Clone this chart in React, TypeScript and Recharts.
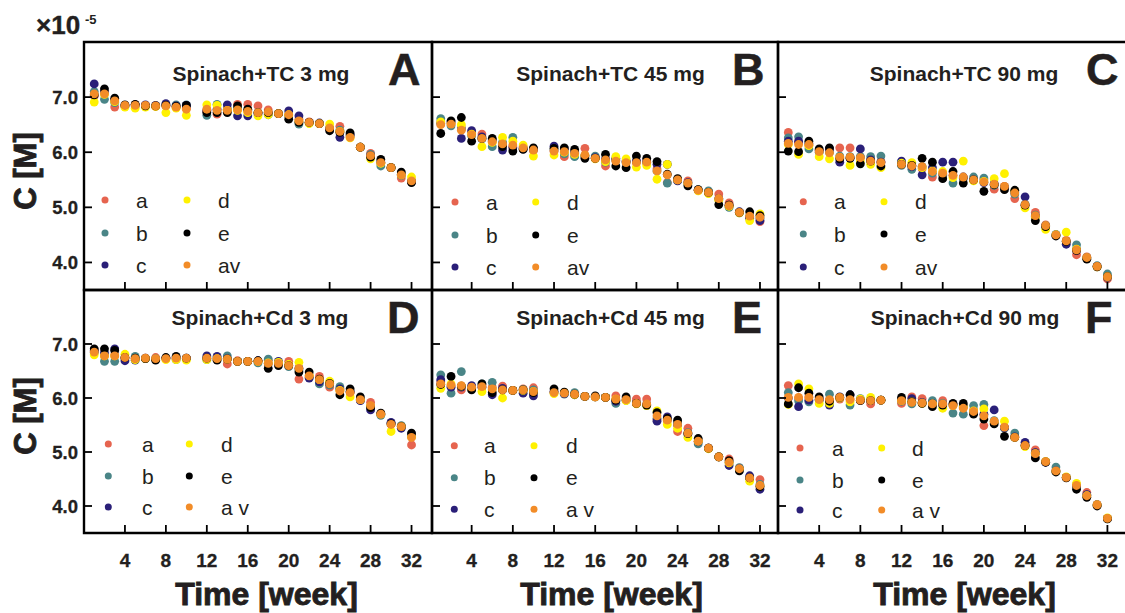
import React from 'react';
import { ScatterChart, Scatter, XAxis, YAxis, ReferenceArea } from 'recharts';

const FONT = '"Liberation Sans", Arial, Helvetica, sans-serif';
const TEXT = '#231f20';

// ---------- data ----------
const weeks = [1, 2, 3, 4, 5, 6, 7, 8, 9, 10, 12, 13, 14, 15, 16, 17, 18, 19, 20, 21, 22, 23, 24, 25, 26, 27, 28, 29, 30, 31, 32];
const xTicks = [4, 8, 12, 16, 20, 24, 28, 32];
const yTicks = [4, 5, 6, 7];
const yTickLabels = ['4.0', '5.0', '6.0', '7.0'];
const seriesKeys = ['a', 'b', 'c', 'd', 'e', 'av'];
const seriesColors = ['#E6644F', '#4A8587', '#2A1F78', '#FFF100', '#000000', '#F28C28'];
const legendLabelsTop = ['a', 'b', 'c', 'd', 'e', 'av'];
const legendLabelsBottom = ['a', 'b', 'c', 'd', 'e', 'a v'];
const titles = ['Spinach+TC 3 mg', 'Spinach+TC 45 mg', 'Spinach+TC 90 mg', 'Spinach+Cd 3 mg', 'Spinach+Cd 45 mg', 'Spinach+Cd 90 mg'];
const letters = ['A', 'B', 'C', 'D', 'E', 'F'];

// Panel A : Spinach+TC 3 mg
const A_a = [7.02, 7.08, 6.82, 6.84, 6.86, 6.85, 6.83, 6.85, 6.82, 6.80, 6.74, 6.69, 6.78, 6.87, 6.87, 6.84, 6.77, 6.70, 6.68, 6.60, 6.55, 6.52, 6.42, 6.47, 6.30, 6.09, 5.98, 5.80, 5.72, 5.53, 5.46];
const A_b = [7.10, 6.96, 6.90, 6.83, 6.84, 6.84, 6.84, 6.86, 6.86, 6.86, 6.67, 6.87, 6.78, 6.78, 6.76, 6.72, 6.68, 6.70, 6.66, 6.51, 6.53, 6.52, 6.44, 6.40, 6.30, 6.09, 5.96, 5.75, 5.72, 5.58, 5.47];
const A_c = [7.24, 7.10, 6.95, 6.85, 6.86, 6.86, 6.85, 6.88, 6.84, 6.85, 6.76, 6.78, 6.86, 6.66, 6.66, 6.70, 6.70, 6.70, 6.75, 6.66, 6.54, 6.53, 6.42, 6.27, 6.32, 6.09, 5.94, 5.82, 5.72, 5.60, 5.47];
const A_d = [6.91, 7.05, 6.92, 6.82, 6.80, 6.82, 6.83, 6.72, 6.80, 6.67, 6.86, 6.85, 6.76, 6.76, 6.72, 6.66, 6.68, 6.70, 6.68, 6.56, 6.52, 6.52, 6.51, 6.38, 6.26, 6.09, 5.88, 5.80, 5.72, 5.59, 5.55];
const A_e = [7.04, 7.15, 6.98, 6.86, 6.87, 6.84, 6.84, 6.85, 6.83, 6.85, 6.72, 6.72, 6.72, 6.84, 6.78, 6.72, 6.72, 6.70, 6.60, 6.54, 6.54, 6.52, 6.39, 6.36, 6.35, 6.09, 5.91, 5.87, 5.72, 5.64, 5.45];
const A_av = [7.06, 7.06, 6.93, 6.85, 6.85, 6.85, 6.84, 6.84, 6.82, 6.78, 6.78, 6.76, 6.76, 6.77, 6.74, 6.72, 6.73, 6.70, 6.68, 6.57, 6.54, 6.52, 6.44, 6.38, 6.27, 6.09, 5.94, 5.81, 5.72, 5.59, 5.48];

// Panel B : Spinach+TC 45 mg
const B_a = [6.55, 6.52, 6.45, 6.36, 6.33, 6.20, 6.15, 6.10, 6.10, 6.03, 6.02, 5.92, 5.95, 6.07, 5.90, 5.75, 5.86, 5.83, 5.82, 5.81, 5.70, 5.45, 5.50, 5.48, 5.31, 5.27, 5.24, 5.08, 4.91, 4.82, 4.74];
const B_b = [6.61, 6.48, 6.42, 6.30, 6.24, 6.10, 6.18, 6.27, 6.07, 6.05, 6.04, 5.97, 5.92, 5.94, 5.93, 5.82, 5.86, 5.82, 5.83, 5.81, 5.66, 5.44, 5.49, 5.44, 5.32, 5.30, 5.14, 5.00, 4.90, 4.84, 4.80];
const B_c = [6.52, 6.55, 6.25, 6.39, 6.28, 6.22, 6.04, 6.08, 6.06, 6.06, 6.11, 6.05, 6.00, 5.93, 5.90, 5.88, 5.89, 5.84, 5.85, 5.84, 5.78, 5.78, 5.48, 5.45, 5.31, 5.26, 5.16, 5.04, 4.92, 4.80, 4.76];
const B_d = [6.55, 6.52, 6.50, 6.33, 6.10, 6.18, 6.27, 6.20, 6.13, 5.93, 5.95, 6.00, 5.96, 5.94, 5.88, 5.83, 5.92, 5.88, 5.73, 5.76, 5.51, 5.78, 5.50, 5.43, 5.30, 5.25, 5.13, 5.02, 4.90, 4.76, 4.88];
const B_e = [6.34, 6.57, 6.63, 6.20, 6.25, 6.25, 6.10, 6.02, 6.05, 6.08, 6.07, 6.08, 6.05, 5.89, 5.89, 5.96, 5.75, 5.72, 5.93, 5.89, 5.83, 5.60, 5.52, 5.39, 5.32, 5.27, 5.05, 5.04, 4.91, 4.92, 4.85];
const B_av = [6.50, 6.51, 6.40, 6.32, 6.25, 6.19, 6.15, 6.13, 6.08, 6.04, 6.02, 6.01, 5.98, 5.95, 5.89, 5.86, 5.84, 5.81, 5.81, 5.82, 5.66, 5.59, 5.50, 5.44, 5.31, 5.27, 5.16, 5.03, 4.91, 4.84, 4.82];

// Panel C : Spinach+TC 90 mg
const C_a = [6.36, 6.18, 6.12, 6.04, 6.05, 6.08, 6.08, 5.91, 5.86, 5.83, 5.79, 5.76, 5.70, 5.55, 5.60, 5.58, 5.53, 5.50, 5.50, 5.33, 5.38, 5.16, 5.04, 4.91, 4.68, 4.50, 4.40, 4.14, 4.10, 3.93, 3.70];
const C_b = [6.26, 6.28, 6.06, 6.00, 6.00, 5.93, 5.92, 5.92, 5.92, 5.93, 5.76, 5.69, 5.74, 5.62, 5.58, 5.44, 5.52, 5.55, 5.53, 5.40, 5.37, 5.24, 5.06, 4.86, 4.67, 4.51, 4.38, 4.32, 4.09, 3.94, 3.79];
const C_c = [6.20, 6.20, 6.16, 6.03, 6.06, 5.82, 5.90, 6.06, 5.86, 5.82, 5.84, 5.74, 5.59, 5.72, 5.82, 5.82, 5.55, 5.50, 5.45, 5.43, 5.36, 5.28, 5.19, 4.84, 4.66, 4.49, 4.33, 4.22, 4.08, 3.93, 3.73];
const C_d = [6.14, 5.96, 6.12, 5.92, 5.88, 5.90, 5.76, 5.84, 5.78, 5.72, 5.80, 5.81, 5.72, 5.66, 5.65, 5.54, 5.84, 5.48, 5.47, 5.52, 5.61, 5.30, 4.99, 4.82, 4.60, 4.50, 4.55, 4.24, 4.08, 3.92, 3.74];
const C_e = [6.02, 6.01, 6.20, 6.06, 6.08, 5.88, 5.89, 5.79, 5.84, 5.75, 5.78, 5.76, 5.89, 5.82, 5.52, 5.65, 5.44, 5.50, 5.29, 5.41, 5.32, 5.31, 5.04, 4.76, 4.65, 4.48, 4.38, 4.22, 4.06, 3.92, 3.74];
const C_av = [6.16, 6.14, 6.14, 6.01, 5.99, 5.91, 5.91, 5.90, 5.84, 5.81, 5.78, 5.75, 5.74, 5.65, 5.62, 5.58, 5.55, 5.50, 5.46, 5.42, 5.38, 5.26, 5.05, 4.85, 4.67, 4.50, 4.39, 4.23, 4.09, 3.93, 3.74];

// Panel D : Spinach+Cd 3 mg
const D_a = [6.86, 6.80, 6.80, 6.74, 6.73, 6.74, 6.75, 6.73, 6.73, 6.73, 6.73, 6.73, 6.63, 6.69, 6.68, 6.68, 6.70, 6.66, 6.68, 6.35, 6.40, 6.40, 6.20, 6.15, 6.10, 5.96, 5.92, 5.71, 5.52, 5.48, 5.13];
const D_b = [6.84, 6.68, 6.68, 6.74, 6.77, 6.73, 6.73, 6.73, 6.71, 6.73, 6.71, 6.74, 6.78, 6.68, 6.68, 6.65, 6.72, 6.65, 6.58, 6.52, 6.38, 6.26, 6.24, 6.21, 6.12, 5.97, 5.84, 5.68, 5.53, 5.49, 5.30];
const D_c = [6.88, 6.84, 6.91, 6.69, 6.70, 6.74, 6.72, 6.74, 6.74, 6.74, 6.78, 6.77, 6.73, 6.68, 6.68, 6.69, 6.64, 6.68, 6.60, 6.55, 6.37, 6.30, 6.26, 6.17, 6.12, 5.95, 5.78, 5.70, 5.55, 5.44, 5.32];
const D_d = [6.80, 6.78, 6.78, 6.81, 6.71, 6.73, 6.72, 6.71, 6.71, 6.70, 6.71, 6.73, 6.72, 6.68, 6.68, 6.68, 6.65, 6.66, 6.62, 6.66, 6.42, 6.34, 6.31, 6.14, 6.02, 5.97, 5.85, 5.70, 5.38, 5.47, 5.28];
const D_e = [6.91, 6.91, 6.88, 6.75, 6.74, 6.73, 6.70, 6.75, 6.77, 6.74, 6.74, 6.70, 6.72, 6.68, 6.68, 6.69, 6.55, 6.60, 6.60, 6.48, 6.48, 6.35, 6.27, 6.06, 6.17, 6.02, 5.82, 5.72, 5.52, 5.47, 5.35];
const D_av = [6.85, 6.78, 6.78, 6.75, 6.73, 6.74, 6.73, 6.73, 6.74, 6.74, 6.74, 6.73, 6.72, 6.68, 6.68, 6.68, 6.64, 6.64, 6.60, 6.55, 6.41, 6.34, 6.26, 6.13, 6.10, 5.97, 5.86, 5.70, 5.51, 5.47, 5.27];

// Panel E : Spinach+Cd 45 mg
const E_a = [6.30, 6.22, 6.15, 6.18, 6.22, 6.20, 6.22, 6.14, 6.17, 6.19, 6.11, 6.09, 6.07, 6.03, 6.02, 6.01, 6.04, 5.98, 5.98, 5.98, 5.60, 5.58, 5.38, 5.44, 5.20, 5.07, 4.91, 4.87, 4.70, 4.52, 4.49];
const E_b = [6.43, 6.09, 6.49, 6.20, 6.26, 6.29, 6.16, 6.14, 6.16, 6.15, 6.10, 6.07, 6.10, 6.03, 6.02, 6.01, 5.90, 5.96, 5.90, 5.86, 5.62, 5.60, 5.55, 5.36, 5.15, 5.07, 4.91, 4.80, 4.71, 4.52, 4.40];
const E_c = [6.34, 6.20, 6.20, 6.23, 6.20, 6.06, 6.18, 6.14, 6.09, 6.04, 6.12, 6.08, 6.06, 6.03, 6.02, 6.01, 5.94, 5.96, 5.90, 5.88, 5.57, 5.65, 5.50, 5.34, 5.19, 5.07, 4.91, 4.75, 4.69, 4.56, 4.31];
const E_d = [6.18, 6.26, 6.22, 6.17, 6.12, 6.16, 6.00, 6.14, 6.14, 6.12, 6.08, 6.10, 6.06, 6.03, 6.02, 6.01, 5.98, 5.95, 5.89, 5.86, 5.76, 5.51, 5.44, 5.27, 5.20, 5.06, 4.91, 4.80, 4.68, 4.46, 4.37];
const E_e = [6.25, 6.40, 6.22, 6.15, 6.26, 6.10, 6.15, 6.14, 6.15, 6.10, 6.17, 6.11, 6.07, 6.03, 6.04, 6.01, 5.96, 6.02, 5.90, 5.87, 5.73, 5.62, 5.59, 5.34, 5.25, 5.07, 4.91, 4.84, 4.65, 4.52, 4.36];
const E_av = [6.26, 6.24, 6.23, 6.20, 6.21, 6.17, 6.15, 6.14, 6.15, 6.12, 6.10, 6.09, 6.07, 6.03, 6.02, 6.01, 5.98, 5.97, 5.90, 5.89, 5.67, 5.59, 5.51, 5.35, 5.20, 5.07, 4.91, 4.81, 4.69, 4.52, 4.38];

// Panel F : Spinach+Cd 90 mg
const F_a = [6.23, 6.00, 6.02, 5.98, 5.97, 5.98, 5.98, 5.96, 5.89, 5.96, 5.90, 6.02, 5.99, 5.93, 5.95, 5.88, 5.83, 5.78, 5.49, 5.56, 5.46, 5.29, 5.13, 5.04, 4.82, 4.66, 4.53, 4.38, 4.25, 4.03, 3.77];
const F_b = [6.10, 5.95, 5.93, 5.96, 6.07, 6.00, 5.87, 5.99, 5.95, 5.96, 5.94, 5.89, 5.91, 5.95, 5.90, 5.72, 5.70, 5.86, 5.88, 5.58, 5.44, 5.35, 5.12, 4.98, 4.82, 4.72, 4.53, 4.37, 4.20, 4.02, 3.76];
const F_c = [6.00, 5.84, 5.96, 5.97, 5.87, 6.02, 6.06, 5.96, 5.96, 5.96, 5.96, 5.99, 5.92, 5.90, 5.88, 5.87, 5.85, 5.75, 5.70, 5.78, 5.45, 5.28, 5.18, 4.99, 4.81, 4.65, 4.53, 4.38, 4.21, 4.02, 3.77];
const F_d = [5.88, 6.26, 6.17, 5.90, 5.90, 6.00, 5.93, 5.98, 6.01, 5.96, 5.95, 5.93, 5.90, 5.89, 5.81, 5.86, 5.84, 5.76, 5.80, 5.55, 5.57, 5.27, 5.10, 4.97, 4.82, 4.64, 4.54, 4.42, 4.19, 4.02, 3.78];
const F_e = [5.89, 6.19, 6.09, 6.02, 5.94, 6.01, 6.06, 5.95, 5.95, 5.96, 6.01, 5.93, 5.90, 5.84, 5.87, 5.90, 5.90, 5.70, 5.61, 5.52, 5.29, 5.27, 5.12, 4.89, 4.81, 4.63, 4.52, 4.31, 4.16, 4.00, 3.76];
const F_av = [6.01, 6.01, 6.01, 5.97, 5.97, 6.01, 5.97, 5.96, 5.95, 5.96, 5.95, 5.92, 5.91, 5.89, 5.89, 5.86, 5.81, 5.75, 5.67, 5.57, 5.46, 5.27, 5.12, 4.97, 4.82, 4.65, 4.53, 4.38, 4.19, 4.02, 3.77];

const panelSeries = [
  [A_a, A_b, A_c, A_d, A_e, A_av],
  [B_a, B_b, B_c, B_d, B_e, B_av],
  [C_a, C_b, C_c, C_d, C_e, C_av],
  [D_a, D_b, D_c, D_d, D_e, D_av],
  [E_a, E_b, E_c, E_d, E_e, E_av],
  [F_a, F_b, F_c, F_d, F_e, F_av],
];

// ---------- layout ----------
const COLS = [
  { x: 84, w: 348, domain: [0, 34] },
  { x: 432, w: 346, domain: [0.15, 33.75] },
  { x: 778, w: 350, domain: [0, 34] },
];
const ROWS = [
  { y: 42, h: 248 },
  { y: 290, h: 243 },
];
const Y_DOMAIN = [3.5, 8];

const TITLE_POS = [
  { x: 261, y: 80.5 }, { x: 610.5, y: 81 }, { x: 964, y: 81 },
  { x: 260, y: 325 }, { x: 610.5, y: 325 }, { x: 965, y: 325 },
];
const LETTER_POS = [
  { x: 388, y: 85 }, { x: 732, y: 85 }, { x: 1086, y: 85 },
  { x: 387, y: 333 }, { x: 732, y: 333 }, { x: 1085, y: 333 },
];
const LEGEND_POS = [
  { dx: [105, 187], tx: [136, 218], ys: [200, 233, 265] },
  { dx: [455, 535.7], tx: [486, 567], ys: [202, 235, 267] },
  { dx: [803.3, 884], tx: [834, 915], ys: [201.7, 234, 267] },
  { dx: [108.3, 189.3], tx: [142, 221], ys: [444, 476, 507] },
  { dx: [454.3, 534], tx: [484, 566], ys: [445.7, 477.7, 509.3] },
  { dx: [800, 881.7], tx: [832, 912], ys: [448, 480, 510] },
];

const makeXTick = (show: boolean) => (props: any) => {
  const { x, y, payload } = props;
  return (
    <g>
      <line x1={x} x2={x} y1={y} y2={y - 8} stroke="#000" strokeWidth={1.8} />
      {show && (
        <text x={x} y={y + 34} textAnchor="middle" fontSize={19} fontWeight="bold" fontFamily={FONT} fill={TEXT} stroke={TEXT} strokeWidth={0.3}>
          {payload.value}
        </text>
      )}
    </g>
  );
};

const makeYTick = (show: boolean) => (props: any) => {
  const { x, y, payload } = props;
  const idx = yTicks.indexOf(payload.value);
  return (
    <g>
      <line x1={x} x2={x + 8} y1={y} y2={y} stroke="#000" strokeWidth={1.8} />
      {show && (
        <text x={x - 6} y={y + 6.5} textAnchor="end" fontSize={18.5} fontWeight="bold" fontFamily={FONT} fill={TEXT} stroke={TEXT} strokeWidth={0.3}>
          {yTickLabels[idx]}
        </text>
      )}
    </g>
  );
};

function Panel({ col, row }: { col: number; row: number }) {
  const c = COLS[col];
  const r = ROWS[row];
  const L = 34, T = 4, R = 4, B = 44;
  const width = L + c.w + R;
  const height = T + r.h + B;
  const idx = row * 3 + col;
  const series = panelSeries[idx];
  return (
    <div style={{ position: 'absolute', left: c.x - L, top: r.y - T, width, height }}>
      <ScatterChart width={width} height={height} margin={{ top: T, right: R, bottom: 4, left: 4 }}>
        <XAxis
          type="number"
          dataKey="x"
          domain={c.domain as [number, number]}
          ticks={xTicks}
          interval={0}
          height={40}
          tickSize={0}
          tickMargin={0}
          axisLine={false}
          tickLine={false}
          allowDataOverflow
          tick={makeXTick(row === 1)}
        />
        <YAxis
          type="number"
          dataKey="y"
          domain={Y_DOMAIN as [number, number]}
          ticks={yTicks}
          interval={0}
          width={30}
          tickSize={0}
          tickMargin={0}
          axisLine={false}
          tickLine={false}
          allowDataOverflow
          tick={makeYTick(col === 0)}
        />
        <ReferenceArea
          x1={c.domain[0]}
          x2={c.domain[1]}
          y1={Y_DOMAIN[0]}
          y2={Y_DOMAIN[1]}
          fill="none"
          fillOpacity={0}
          stroke="#000"
          strokeWidth={2.4}
        />
        {seriesKeys.map((k, i) => (
          <Scatter
            key={k}
            name={k}
            data={weeks.map((w, j) => ({ x: w, y: series[i][j] }))}
            fill={seriesColors[i]}
            isAnimationActive={false}
            shape={(p: any) => <circle cx={p.cx} cy={p.cy} r={4.4} fill={seriesColors[i]} />}
          />
        ))}
      </ScatterChart>
    </div>
  );
}

export default function App() {
  const panels = [];
  for (let row = 0; row < 2; row++) {
    for (let col = 0; col < 3; col++) {
      panels.push(<Panel key={`${row}-${col}`} col={col} row={row} />);
    }
  }
  return (
    <div style={{ position: 'absolute', left: 0, top: 0, width: 1125, height: 613, overflow: 'hidden', background: '#fff' }}>
      {panels}
      <svg width={1125} height={613} style={{ position: 'absolute', left: 0, top: 0, pointerEvents: 'none' }} fontFamily={FONT}>
        <text x={36} y={34} fontSize={26} fontWeight="bold" fill={TEXT} stroke={TEXT} strokeWidth={0.4}>×10</text>
        <text x={85} y={24} fontSize={13} fontWeight="bold" fill={TEXT}>-5</text>
        {[171, 416].map((cy, i) => (
          <text key={`yl${i}`} transform={`translate(36, ${cy}) rotate(-90)`} textAnchor="middle" fontSize={31} fontWeight="bold" fill={TEXT} stroke={TEXT} strokeWidth={0.9}>
            C [M]
          </text>
        ))}
        {[266.5, 611.5, 964.5].map((cx, i) => (
          <text key={`xl${i}`} x={cx} y={605} textAnchor="middle" fontSize={32} fontWeight="bold" fill={TEXT} stroke={TEXT} strokeWidth={0.9}>
            Time [week]
          </text>
        ))}
        {titles.map((t, i) => (
          <text key={`t${i}`} x={TITLE_POS[i].x} y={TITLE_POS[i].y} textAnchor="middle" fontSize={21} fontWeight="bold" fill={TEXT}>
            {t}
          </text>
        ))}
        {letters.map((t, i) => (
          <text key={`l${i}`} x={LETTER_POS[i].x} y={LETTER_POS[i].y} fontSize={45} fontWeight="bold" fill={TEXT} stroke={TEXT} strokeWidth={0.5}>
            {t}
          </text>
        ))}
        {LEGEND_POS.map((lp, p) => (
          <g key={`lg${p}`}>
            {seriesKeys.map((k, i) => {
              const colIdx = i < 3 ? 0 : 1;
              const rowIdx = i % 3;
              const labels = p < 3 ? legendLabelsTop : legendLabelsBottom;
              return (
                <g key={k}>
                  <circle cx={lp.dx[colIdx]} cy={lp.ys[rowIdx]} r={3.5} fill={seriesColors[i]} />
                  <text x={lp.tx[colIdx]} y={lp.ys[rowIdx] + 7.5} fontSize={21} fill={TEXT}>
                    {labels[i]}
                  </text>
                </g>
              );
            })}
          </g>
        ))}
      </svg>
    </div>
  );
}
